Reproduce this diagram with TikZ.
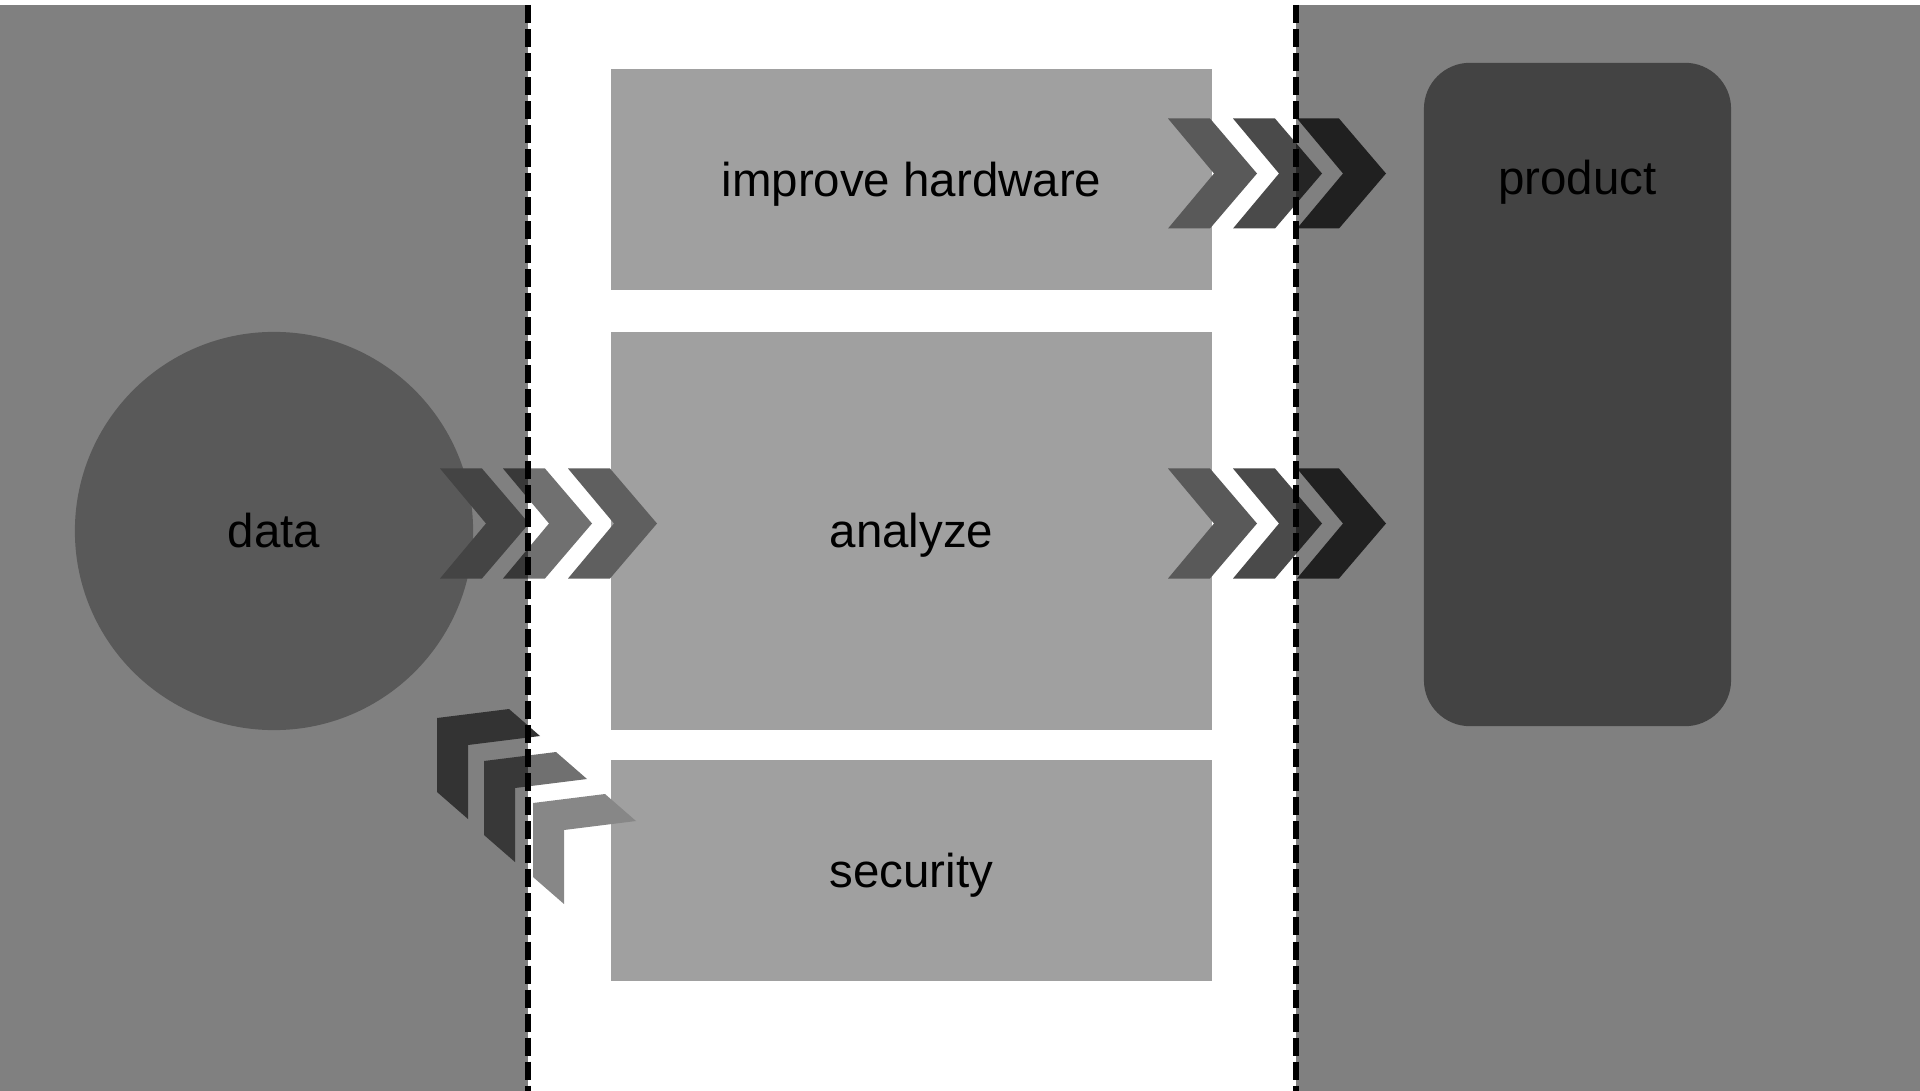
\documentclass[tikz,border=0pt]{standalone}
\usepackage{fontspec}
\setmainfont{Liberation Sans}
\definecolor{panelgray}{HTML}{808080}
\definecolor{boxgray}{HTML}{A0A0A0}
\definecolor{datagray}{HTML}{595959}
\definecolor{prodgray}{HTML}{434343}
\definecolor{chevdark}{HTML}{444444}
\definecolor{chevmid}{HTML}{5F5F5F}
\definecolor{chevside}{HTML}{595959}
\definecolor{chevblack}{HTML}{202020}
\definecolor{chevcorner}{HTML}{333333}
\definecolor{chevlight}{HTML}{878787}

\begin{document}
\begin{tikzpicture}[x=0.01cm, y=-0.01cm]
	\tikzstyle{Box} = [rectangle, minimum width=6.01cm, minimum height=2.21cm, inner sep=0pt, text centered, fill=boxgray]
	\tikzstyle{Txt} = [font=\fontsize{13.5}{16}\selectfont, text height=0.43cm, text depth=0.1cm]
	\tikzstyle{divider} = [line width=0.06cm, black, dash pattern=on 0.18cm off 0.06cm]

	\useasboundingbox (0,0) rectangle (1920,1091);
	\fill [panelgray] (0,5) rectangle (528,1091);
	\fill [panelgray] (1296,5) rectangle (1920,1091);

	\node (data) [circle, minimum size=3.98cm, inner sep=0pt, fill=datagray, Txt] at (274,531) {data};
	\node (hw) [Box, Txt] at (911.5,179.5) {improve hardware};
	\node (an) [Box, Txt, minimum height=3.98cm] at (911.5,531) {analyze};
	\node (sec) [Box, Txt] at (911.5,870.5) {security};
	\node (prod) [rectangle, rounded corners=0.46cm, minimum width=3.07cm, minimum height=6.63cm, fill=prodgray] at (1577.5,394.5) {};
	\node (prodtext) [Txt] at ([yshift=-1.16cm]prod.north) {product};

	% chevrons
	\foreach \x/\y/\c/\o in {440/523.5/chevdark/1, 503/523.5/black/0.56, 568/523.5/chevmid/1,
		1168/173.5/chevside/1, 1233/173.5/black/0.71, 1297/173.5/chevblack/1,
		1168/523.5/chevside/1, 1233/523.5/black/0.71, 1297/523.5/chevblack/1}
		\fill [\c, opacity=\o] (\x,\y-55) -- ++(42,0) -- ++(47,55) -- ++(-47,55) -- ++(-42,0) -- ++(46,-55) -- cycle;
	\foreach \x/\y/\c/\o in {437/718/chevcorner/1, 484/761/black/0.56, 533/803/chevlight/1}
		\fill [\c, opacity=\o] (\x,\y) -- ++(72,-9) -- ++(31,27) -- ++(-72,9) -- ++(0,74) -- ++(-31,-27) -- cycle;

	\draw [divider] (528,5) -- (528,1091);
	\draw [divider] (1296,5) -- (1296,1091);
\end{tikzpicture}
\end{document}
